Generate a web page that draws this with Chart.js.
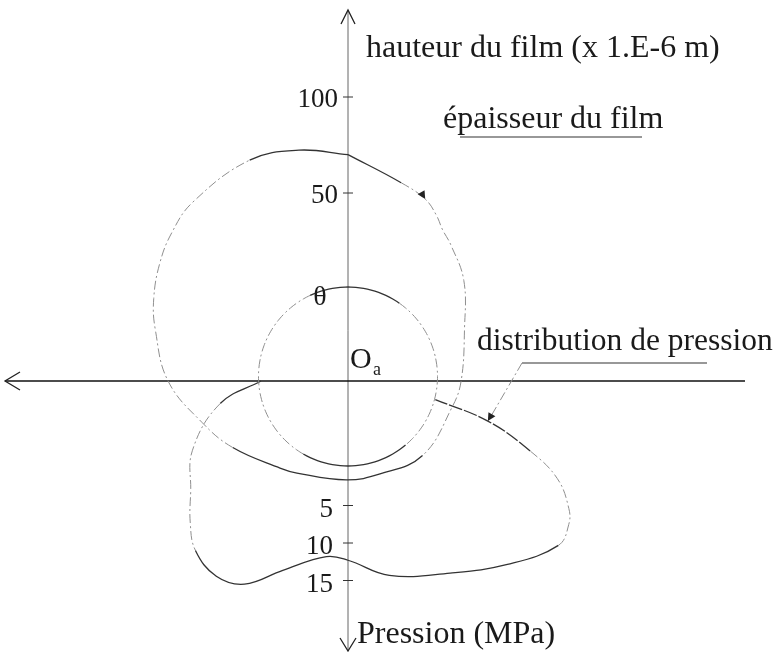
<!DOCTYPE html>
<html>
<head>
<meta charset="utf-8">
<script src="https://cdn.jsdelivr.net/npm/chart.js@4/dist/chart.umd.min.js"></script>
<style>
  html, body { margin: 0; padding: 0; background: #fff; }
  #wrap { width: 778px; height: 653px; position: relative; }
</style>
</head>
<body>
<div id="wrap"><canvas id="c"></canvas></div>
<script>
// Film thickness around the bearing: angle θ clockwise from the upward axis (deg), height in µm
const filmAngles  = [0, 15, 23, 28, 32, 37, 49, 66, 90, 104, 135, 161, 181, 209, 218, 240, 254, 270, 285, 293, 302, 310, 319, 336, 348, 360];
const filmHeights = [70, 59, 55, 50, 45, 41, 32, 18.5, 11, 8, 7, 3.3, 3.6, 6.9, 9.6, 21.4, 31, 45.8, 56, 62, 67.7, 72, 75.4, 78, 75, 70];

// Pressure distribution: angle θ (deg), pressure in MPa
const pressureAngles = [270, 260, 246, 235, 228, 222, 214, 207, 199, 187, 180, 168, 152, 139, 128, 123, 120, 115, 111, 106, 102];
const pressureValues = [0, 5.7, 11.1, 14, 16.7, 18.8, 19.8, 18.8, 15.1, 12, 12.3, 14.9, 17.4, 20.8, 24, 23.5, 22.4, 19.2, 14.4, 7.8, 0.3];

// Axis graduations
const filmTicks = [100, 50];
const pressureTicks = [5, 10, 15];

// Radial drawing scale (units of the x/y scales)
const FILM_R0 = 92, FILM_K = 1.92;    // film: radius = R0 + K·h
const PRESS_R0 = 87, PRESS_K = 7.5;   // pressure: radius = R0 + K·p
const RING_R = 89.5, RING_DY = 4.5;   // bearing reference circle

const rad = d => d * Math.PI / 180;
const polar = (deg, r, dy = 0) => ({ x: r * Math.sin(rad(deg)), y: r * Math.cos(rad(deg)) + dy });

const filmPts = filmAngles.map((a, i) => polar(a, FILM_R0 + FILM_K * filmHeights[i]));
const pressPts = pressureAngles.map((a, i) => polar(a, PRESS_R0 + PRESS_K * pressureValues[i]));
const ringAngles = [];
for (let a = 0; a <= 360; a += 5) ringAngles.push(a);
const ringPts = ringAngles.map(a => polar(a, RING_R, RING_DY));

const DARK = '#333', FAINT = '#8f8f8f';
const inRanges = (a, ranges) => ranges.some(([lo, hi]) => a >= lo && a <= hi);
function styled(angles, faintRanges, dashedRanges) {
  const mid = c => (angles[c.p0DataIndex] + angles[c.p1DataIndex]) / 2;
  return {
    borderColor: c => inRanges(mid(c), faintRanges) ? FAINT : DARK,
    borderDash: c => inRanges(mid(c), faintRanges) ? [9, 3, 2, 3] : (dashedRanges && inRanges(mid(c), dashedRanges) ? [14, 2] : []),
    borderWidth: c => inRanges(mid(c), faintRanges) ? 1 : 1.3
  };
}

const serif = '"Liberation Serif", "Times New Roman", serif';

const decor = {
  id: 'decor',
  beforeDatasetsDraw(chart) {
    const { ctx, scales: { x, y } } = chart;
    const px = v => x.getPixelForValue(v), py = v => y.getPixelForValue(v);
    const ox = px(0), oy = py(0);
    ctx.save();
    // vertical axis (film height up, pressure down)
    ctx.strokeStyle = '#666'; ctx.lineWidth = 1;
    ctx.beginPath(); ctx.moveTo(ox, py(371)); ctx.lineTo(ox, py(-270)); ctx.stroke();
    // horizontal axis
    ctx.strokeStyle = '#111'; ctx.lineWidth = 1.5;
    ctx.beginPath(); ctx.moveTo(px(-343), oy); ctx.lineTo(px(397), oy); ctx.stroke();
    // arrow heads
    ctx.lineWidth = 1.3; ctx.strokeStyle = '#222';
    const top = py(371), bot = py(-270), left = px(-343);
    ctx.beginPath();
    ctx.moveTo(ox - 7, top + 14); ctx.lineTo(ox, top); ctx.lineTo(ox + 7, top + 14);
    ctx.moveTo(ox - 8, bot - 13); ctx.lineTo(ox, bot); ctx.lineTo(ox + 8, bot - 13);
    ctx.moveTo(left + 15, oy - 9); ctx.lineTo(left, oy); ctx.lineTo(left + 15, oy + 9);
    ctx.stroke();
    // graduations
    ctx.lineWidth = 1; ctx.strokeStyle = '#333';
    ctx.beginPath();
    filmTicks.forEach(t => { const yy = py(FILM_R0 + FILM_K * t); ctx.moveTo(ox - 5, yy); ctx.lineTo(ox + 5, yy); });
    pressureTicks.forEach(t => { const yy = py(-(PRESS_R0 + PRESS_K * t)); ctx.moveTo(ox - 5, yy); ctx.lineTo(ox + 5, yy); });
    ctx.stroke();
    ctx.restore();
  },
  afterDatasetsDraw(chart) {
    const { ctx, scales: { x, y } } = chart;
    const px = v => x.getPixelForValue(v), py = v => y.getPixelForValue(v);
    const ox = px(0), oy = py(0);
    ctx.save();
    ctx.fillStyle = '#1a1a1a';
    ctx.textBaseline = 'middle';
    // tick labels
    ctx.font = `27px ${serif}`; ctx.textAlign = 'right';
    filmTicks.forEach(t => ctx.fillText(String(t), ox - 10, py(FILM_R0 + FILM_K * t) + 3));
    pressureTicks.forEach(t => ctx.fillText(String(t), ox - 15, py(-(PRESS_R0 + PRESS_K * t)) + 4));
    // angle mark at the top of the reference circle
    ctx.font = `28px ${serif}`; ctx.textAlign = 'center';
    ctx.fillText('θ', ox - 28, py(RING_R + RING_DY) + 11);
    // titles
    ctx.textBaseline = 'alphabetic'; ctx.textAlign = 'left';
    ctx.font = `32px ${serif}`;
    ctx.fillText('hauteur du film (x 1.E-6 m)', ox + 18, 57);
    ctx.fillText('épaisseur du film', 443, 128);
    ctx.fillText('Pression (MPa)', ox + 9, 643);
    ctx.font = `31.5px ${serif}`;
    ctx.fillText('distribution de pression', 477, 350);
    ctx.font = `30px ${serif}`;
    ctx.fillText('O', ox + 2, oy - 13);
    ctx.font = `18px ${serif}`;
    ctx.fillText('a', ox + 25, oy - 6);
    // underlines and leader
    ctx.strokeStyle = '#333'; ctx.lineWidth = 1.2;
    ctx.beginPath();
    ctx.moveTo(460, 137); ctx.lineTo(642, 137);
    ctx.moveTo(522, 363); ctx.lineTo(707, 363);
    ctx.stroke();
    // pointer to the pressure curve
    const pi = pressureAngles.indexOf(106);
    const pp = pressPts[pi];
    const tx = px(pp.x), ty = py(pp.y);
    ctx.strokeStyle = FAINT; ctx.lineWidth = 1; ctx.setLineDash([9, 3, 2, 3]);
    ctx.beginPath(); ctx.moveTo(522, 363); ctx.lineTo(tx + 2, ty - 3); ctx.stroke();
    ctx.setLineDash([]);
    const arrow = (ax, ay, ang) => {
      ctx.save(); ctx.translate(ax, ay); ctx.rotate(ang);
      ctx.fillStyle = '#222';
      ctx.beginPath(); ctx.moveTo(0, 0); ctx.lineTo(-8, -4); ctx.lineTo(-8, 4); ctx.closePath(); ctx.fill();
      ctx.restore();
    };
    arrow(tx, ty, Math.atan2(ty - 363, tx - 522));
    // pointer tip on the film curve
    const fi = filmAngles.indexOf(23);
    const fp = filmPts[fi];
    arrow(px(fp.x), py(fp.y), Math.atan2(1, 0.6));
    ctx.restore();
  }
};

new Chart(document.getElementById('c'), {
  type: 'scatter',
  data: {
    datasets: [
      { label: 'cercle', data: ringPts, showLine: true, pointRadius: 0, tension: 0.4,
        segment: styled(ringAngles, [[35, 140], [210, 335]]) },
      { label: 'épaisseur du film', data: filmPts, showLine: true, pointRadius: 0, tension: 0.4,
        segment: styled(filmAngles, [[15, 135], [245, 335]]) },
      { label: 'distribution de pression', data: pressPts, showLine: true, pointRadius: 0, tension: 0.4,
        segment: styled(pressureAngles, [[222, 262], [111, 129]], [[100, 111]]) }
    ]
  },
  options: {
    responsive: true,
    maintainAspectRatio: false,
    animation: false,
    layout: { padding: 0 },
    plugins: { legend: { display: false }, tooltip: { enabled: false } },
    scales: {
      x: { type: 'linear', min: -348, max: 430, display: false },
      y: { type: 'linear', min: -272, max: 381, display: false }
    },
    elements: { line: { borderColor: DARK, borderWidth: 1.3, fill: false } },
    clip: false
  },
  plugins: [decor]
});
</script>
</body>
</html>
